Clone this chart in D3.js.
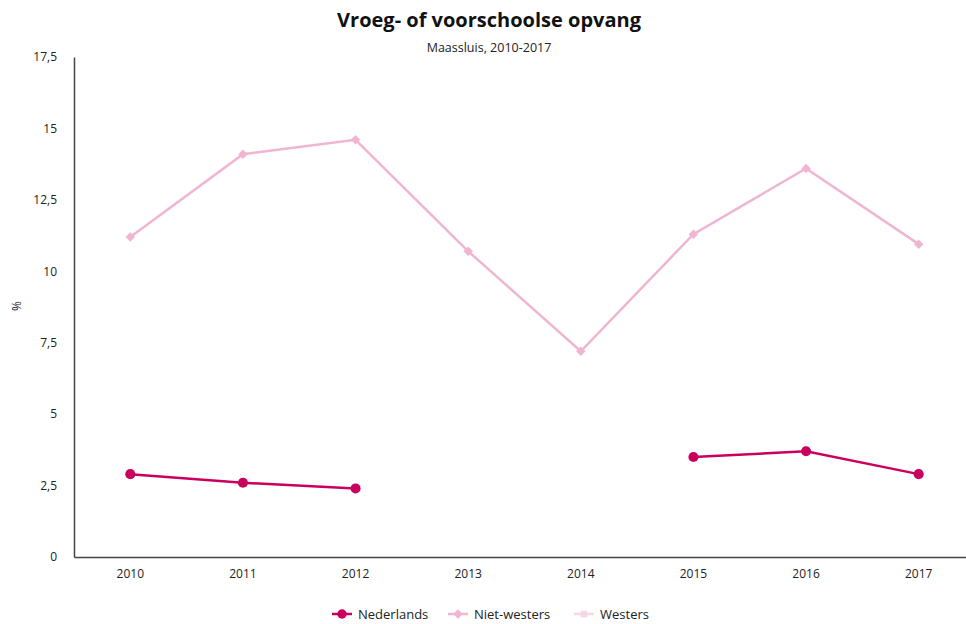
<!DOCTYPE html>
<html>
<head>
<meta charset="utf-8">
<script src="https://cdn.jsdelivr.net/npm/d3@7"></script>
<style>
  body { margin: 0; background: #fff; }
  text { font-family: "Open Sans", "Noto Sans", sans-serif; fill: #222; }
</style>
</head>
<body>
<svg id="chart" width="966" height="624"></svg>
<script>
// data
var years = ["2010", "2011", "2012", "2013", "2014", "2015", "2016", "2017"];
var nederlands = [2.9, 2.6, 2.4, null, null, 3.5, 3.7, 2.9];
var nietWesters = [11.2, 14.1, 14.6, 10.7, 7.2, 11.3, 13.6, 10.95];
var westers = [null, null, null, null, null, null, null, null];
var yTicks = [0, 2.5, 5, 7.5, 10, 12.5, 15, 17.5];

var series = [
	{name: "Nederlands", values: nederlands, color: "#c9005e", shape: "circle"},
	{name: "Niet-westers", values: nietWesters, color: "#efb5d1", shape: "diamond"},
	{name: "Westers", values: westers, color: "#f7d6e6", shape: "square"}
];

var svg = d3.select("#chart");
var mLeft = 74, mRight = 975, mTop = 57, mBottom = 557;

var x = d3.scaleBand().domain(years).range([mLeft, mRight]);
var y = d3.scaleLinear().domain([0, 17.5]).range([mBottom, mTop]);
var fmt = function(d){ return String(d).replace(".", ","); };

// titel
svg.append("text").attr("x", 489).attr("y", 27).attr("text-anchor", "middle")
	.style("font-size", "20px").style("font-weight", "bold").style("fill", "#111")
	.text("Vroeg- of voorschoolse opvang");
svg.append("text").attr("x", 489).attr("y", 52).attr("text-anchor", "middle")
	.style("font-size", "12.5px")
	.text("Maassluis, 2010-2017");

// assen
var yAxis = svg.append("g").attr("transform", "translate(" + mLeft + ",0)")
	.call(d3.axisLeft(y).tickValues(yTicks).tickFormat(fmt).tickSize(0).tickPadding(17));
yAxis.select(".domain").attr("stroke", "#444").attr("stroke-width", 1.5);
yAxis.selectAll("text").style("font-size", "12px");

var xAxis = svg.append("g").attr("transform", "translate(0," + mBottom + ")")
	.call(d3.axisBottom(x).tickSize(0).tickPadding(12));
xAxis.select(".domain").attr("stroke", "#444").attr("stroke-width", 1.5);
xAxis.selectAll("text").style("font-size", "12px");

svg.append("text").attr("transform", "translate(21,306) rotate(-90)")
	.attr("text-anchor", "middle").style("font-size", "12px").text("%");

// lijnen
var line = d3.line()
	.defined(function(d){ return d != null; })
	.x(function(d, i){ return x(years[i]) + x.bandwidth() / 2; })
	.y(function(d){ return y(d); });

// diamant = gedraaid vierkant
function symbolFor(shape, size) {
	var t = shape == "circle" ? d3.symbolCircle : d3.symbolSquare;
	return d3.symbol().type(t).size(size)();
}
function rot(shape) { return shape == "diamond" ? " rotate(45)" : ""; }
function symSize(shape) { return shape == "circle" ? 80 : shape == "diamond" ? 45 : 55; }

series.forEach(function(s){
	svg.append("path").datum(s.values)
		.attr("d", line)
		.attr("fill", "none")
		.attr("stroke", s.color)
		.attr("stroke-width", 2.5);
	svg.selectAll(null)
		.data(s.values.map(function(v, i){ return {v: v, i: i}; }).filter(function(d){ return d.v != null; }))
		.enter()
		.append("path")
		.attr("d", symbolFor(s.shape, symSize(s.shape)))
		.attr("transform", function(d){
			return "translate(" + (x(years[d.i]) + x.bandwidth() / 2) + "," + y(d.v) + ")" + rot(s.shape);
		})
		.attr("fill", s.color);
});

// legenda
var legendX = [342, 458, 584];
var legend = svg.selectAll(".legend").data(series).enter().append("g")
	.attr("transform", function(d, i){ return "translate(" + legendX[i] + ",614)"; });
legend.append("line").attr("x1", -10).attr("x2", 10)
	.attr("stroke", function(d){ return d.color; }).attr("stroke-width", 2.5);
legend.append("path")
	.attr("d", function(d){ return symbolFor(d.shape, d.shape == "circle" ? 70 : 45); })
	.attr("transform", function(d){ return rot(d.shape).trim(); })
	.attr("fill", function(d){ return d.color; });
legend.append("text").attr("x", 16).attr("dy", "0.35em")
	.style("font-size", "13px").text(function(d){ return d.name; });
</script>
</body>
</html>
